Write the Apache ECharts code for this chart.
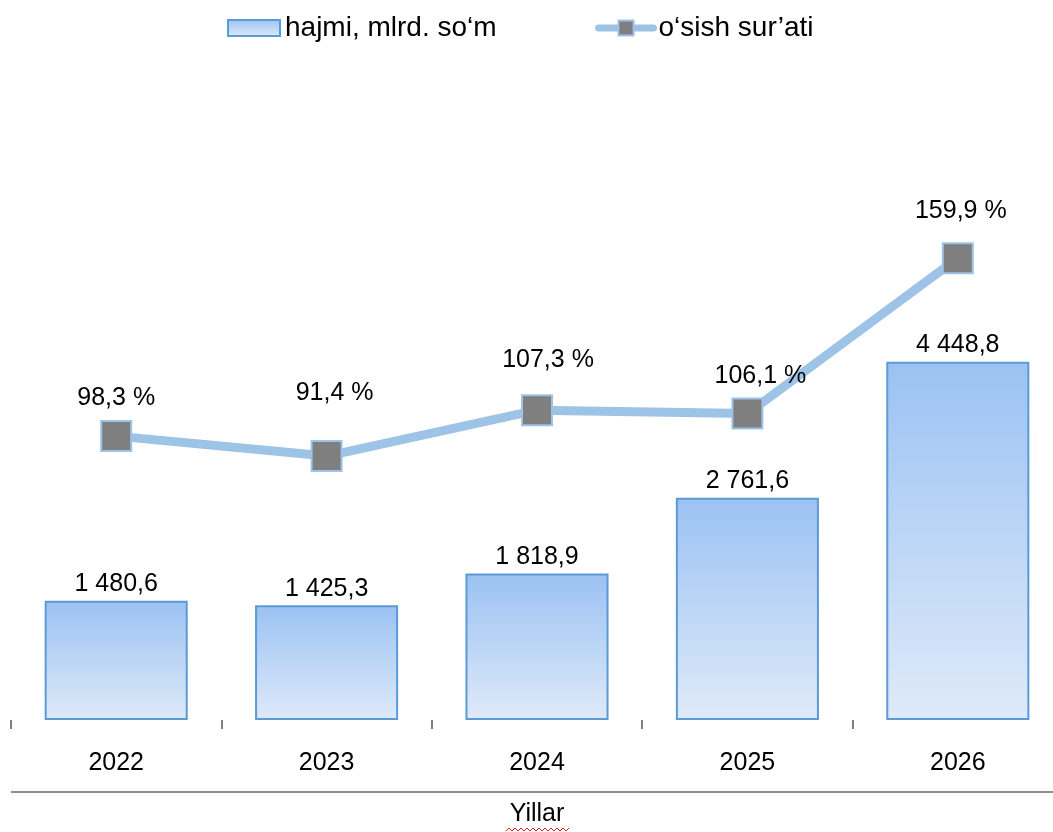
<!DOCTYPE html>
<html>
<head>
<meta charset="utf-8">
<script src="https://cdn.jsdelivr.net/npm/echarts@6/dist/echarts.min.js"></script>
<style>
    html, body { margin: 0; padding: 0; background: #fff; overflow: hidden; }
    /* o'ng chekka kadrdan biroz tashqarida, Excel rasmidagidek */
    #chart { width: 1063px; height: 832px; }
</style>
</head>
<body>
<div id="chart"></div>
<script>
// Yillar
var years = ['2022', '2023', '2024', '2025', '2026']
// hajmi, mlrd. so'm
var volume = [1480.6, 1425.3, 1818.9, 2761.6, 4448.8]
// o'sish sur'ati, %
var growth = [98.3, 91.4, 107.3, 106.1, 159.9]

var barName = 'hajmi, mlrd. so‘m'
var lineName = 'o‘sish sur’ati'
var font = 'Liberation Sans, Arial, sans-serif'

// foiz yorliqlari qo'lda surilgan (Excel'dagidek)
var growthLabelShift = [[0, 0], [8, -24], [11, -12], [13, 1], [3, -9]]

// 1480.6 -> "1 480,6"
function fmt(v) {
    var parts = v.toFixed(1).split('.')
    var int = parts[0].replace(/\B(?=(\d{3})+(?!\d))/g, ' ')
    return int + ',' + parts[1]
}

// qizil to'lqinli chiziq (Yillar ostida)
var wavy = []
for (var x = 506; x <= 569; x += 3) {
    wavy.push([x, (x - 506) % 6 === 0 ? 831 : 828])
}

var myChart = echarts.init(document.getElementById('chart'))
var option = {
    animation: false,
    textStyle: { fontFamily: font },
    legend: [
        {
            data: [{ name: barName, icon: 'rect' }],
            left: 227,
            top: 14,
            padding: 0,
            itemWidth: 52,
            itemHeight: 16,
            itemGap: 5,
            textStyle: { fontSize: 28, color: '#000', fontFamily: font }
        },
        {
            data: [lineName],
            left: 595,
            top: 14,
            padding: 0,
            itemWidth: 55,
            itemHeight: 19,
            lineStyle: { width: 7, cap: 'round' },
            textStyle: { fontSize: 28, color: '#000', fontFamily: font }
        }
    ],
    grid: {
        left: 11,
        right: 0,
        top: 76,
        bottom: 112,
        containLabel: false
    },
    xAxis: {
        type: 'category',
        data: years,
        axisLine: { show: false },
        axisTick: {
            show: true,
            length: 9,
            lineStyle: { color: '#808080', width: 2 }
        },
        axisLabel: {
            margin: 31,
            fontSize: 25,
            color: '#000',
            fontFamily: font
        },
        name: 'Yillar',
        nameLocation: 'middle',
        nameGap: 82,
        nameTextStyle: { fontSize: 25, color: '#000', fontFamily: font }
    },
    yAxis: [
        { type: 'value', min: 0, max: 8000, show: false },
        { type: 'value', min: 0, max: 223, show: false }
    ],
    series: [
        {
            name: barName,
            type: 'bar',
            data: volume,
            barCategoryGap: '32%',
            itemStyle: {
                color: new echarts.graphic.LinearGradient(0, 0, 0, 1, [
                    { offset: 0, color: '#9BC2F3' },
                    { offset: 1, color: '#DFEAF9' }
                ]),
                borderColor: '#5B9BD5',
                borderWidth: 2
            },
            label: {
                show: true,
                position: 'top',
                distance: 4,
                fontSize: 25,
                color: '#000',
                fontFamily: font,
                formatter: function(p) { return fmt(p.value) }
            }
        },
        {
            name: lineName,
            type: 'line',
            yAxisIndex: 1,
            data: growth.map(function(v, i) {
                return { value: v, label: { offset: growthLabelShift[i] } }
            }),
            symbol: 'rect',
            symbolSize: 30,
            lineStyle: { color: '#9DC3E6', width: 9, cap: 'round' },
            itemStyle: {
                color: '#7F7F7F',
                borderColor: '#9DC3E6',
                borderWidth: 2
            },
            label: {
                show: true,
                position: 'top',
                distance: 10,
                fontSize: 25,
                color: '#000',
                fontFamily: font,
                formatter: function(p) { return fmt(p.value) + ' %' }
            },
            z: 3
        }
    ],
    graphic: [
        {
            type: 'line',
            shape: { x1: 11, y1: 792, x2: 1053, y2: 792 },
            style: { stroke: '#8C8C8C', lineWidth: 2 }
        },
        {
            type: 'polyline',
            shape: { points: wavy },
            style: { stroke: '#E02020', lineWidth: 1, fill: null }
        }
    ]
}
myChart.setOption(option)
</script>
</body>
</html>
